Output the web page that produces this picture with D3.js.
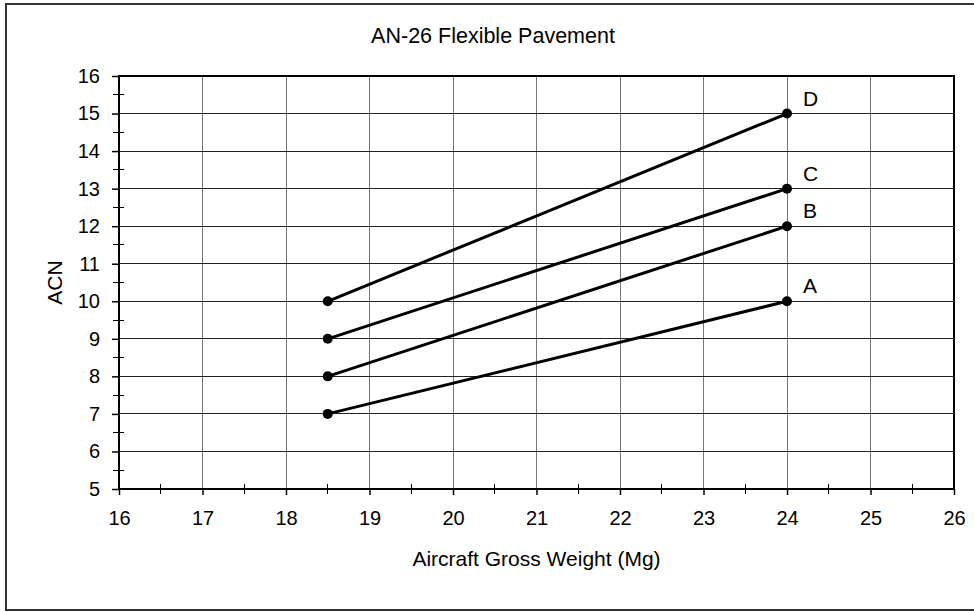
<!DOCTYPE html>
<html>
<head>
<meta charset="utf-8">
<script src="https://cdn.jsdelivr.net/npm/d3@7"></script>
<style>
  html, body { margin: 0; padding: 0; background: #fff; }
  svg { display: block; }
  text { font-family: "Liberation Sans", Arial, sans-serif; fill: #000; }
</style>
</head>
<body>
<svg id="chart" width="974" height="611"></svg>
<script>
const title = "AN-26 Flexible Pavement";
const xTitle = "Aircraft Gross Weight (Mg)";
const yTitle = "ACN";
const seriesNames = ["A", "B", "C", "D"];
const weights = [18.5, 24];
const seriesA = [7, 10];
const seriesB = [8, 12];
const seriesC = [9, 13];
const seriesD = [10, 15];
const xDomain = [16, 26];
const yDomain = [5, 16];
const xTickValues = [16, 17, 18, 19, 20, 21, 22, 23, 24, 25, 26];
const yTickValues = [5, 6, 7, 8, 9, 10, 11, 12, 13, 14, 15, 16];

(function () {
const seriesValues = [seriesA, seriesB, seriesC, seriesD];
const series = seriesNames.map((name, i) => ({
  name,
  points: weights.map((w, j) => ({ x: w, y: seriesValues[i][j] }))
}));

const svg = d3.select("#chart");
const pL = 119, pR = 954, pT = 76, pB = 489;

const x = d3.scaleLinear().domain(xDomain).range([pL, pR]);
const y = d3.scaleLinear().domain(yDomain).range([pB, pT]);

// outer border
svg.append("rect")
  .attr("x", 6).attr("y", 4).attr("width", 974).attr("height", 606)
  .attr("fill", "none").attr("stroke", "#333").attr("stroke-width", 2);

// gridlines
const g = svg.append("g");
g.selectAll("line.vg").data(xTickValues.slice(1, -1)).join("line")
  .attr("x1", d => x(d)).attr("x2", d => x(d))
  .attr("y1", pT).attr("y2", pB)
  .attr("stroke", "#777").attr("stroke-width", 1).attr("shape-rendering", "crispEdges");
g.selectAll("line.hg").data(yTickValues.slice(1, -1)).join("line")
  .attr("y1", d => y(d)).attr("y2", d => y(d))
  .attr("x1", pL).attr("x2", pR)
  .attr("stroke", "#222").attr("stroke-width", 1).attr("shape-rendering", "crispEdges");

// minor ticks (crossing)
const xMinor = xTickValues.slice(0, -1).map(v => v + 0.5);
const yMinor = yTickValues.slice(0, -1).map(v => v + 0.5);
g.selectAll("line.xm").data(xMinor).join("line")
  .attr("x1", d => x(d)).attr("x2", d => x(d))
  .attr("y1", pB - 5).attr("y2", pB + 5)
  .attr("stroke", "#000").attr("stroke-width", 1).attr("shape-rendering", "crispEdges");
g.selectAll("line.ym").data(yMinor).join("line")
  .attr("y1", d => y(d)).attr("y2", d => y(d))
  .attr("x1", pL - 6).attr("x2", pL + 5)
  .attr("stroke", "#000").attr("stroke-width", 1).attr("shape-rendering", "crispEdges");

// axes
const xAxis = d3.axisBottom(x).tickValues(xTickValues).tickSize(6).tickPadding(16).tickFormat(d3.format("d"));
const yAxis = d3.axisLeft(y).tickValues(yTickValues).tickSize(7).tickPadding(12).tickFormat(d3.format("d"));
const gx = svg.append("g").attr("transform", `translate(0,${pB})`).call(xAxis);
const gy = svg.append("g").attr("transform", `translate(${pL},0)`).call(yAxis);
[gx, gy].forEach(a => {
  a.select(".domain").remove();
  a.selectAll(".tick line").attr("stroke", "#000").attr("stroke-width", 1.5);
  a.selectAll(".tick text").style("font-family", '"Liberation Sans", Arial, sans-serif').style("font-size", "20px").attr("fill", "#000");
});

// plot frame
svg.append("rect")
  .attr("x", pL).attr("y", pT).attr("width", pR - pL).attr("height", pB - pT)
  .attr("fill", "none").attr("stroke", "#000").attr("stroke-width", 2);

// series lines
const line = d3.line().x(d => x(d.x)).y(d => y(d.y));
svg.selectAll("path.series").data(series).join("path")
  .attr("class", "series")
  .attr("d", d => line(d.points))
  .attr("fill", "none").attr("stroke", "#000").attr("stroke-width", 3);
svg.selectAll("g.pts").data(series).join("g")
  .attr("class", "pts")
  .selectAll("circle").data(d => d.points).join("circle")
  .attr("cx", d => x(d.x)).attr("cy", d => y(d.y)).attr("r", 5).attr("fill", "#000");

// series labels
svg.selectAll("text.slabel").data(series).join("text")
  .attr("class", "slabel")
  .attr("x", d => x(d.points[1].x) + 16)
  .attr("y", d => y(d.points[1].y) - 8)
  .style("font-size", "21px")
  .text(d => d.name);

// titles
svg.append("text").attr("x", 493).attr("y", 43).attr("text-anchor", "middle")
  .style("font-size", "21.5px").text(title);
svg.append("text").attr("x", (pL + pR) / 2).attr("y", 566).attr("text-anchor", "middle")
  .style("font-size", "21px").text(xTitle);
svg.append("text").attr("transform", `translate(62,${(pT + pB) / 2}) rotate(-90)`)
  .attr("text-anchor", "middle").style("font-size", "21px").text(yTitle);
})();
</script>
</body>
</html>
